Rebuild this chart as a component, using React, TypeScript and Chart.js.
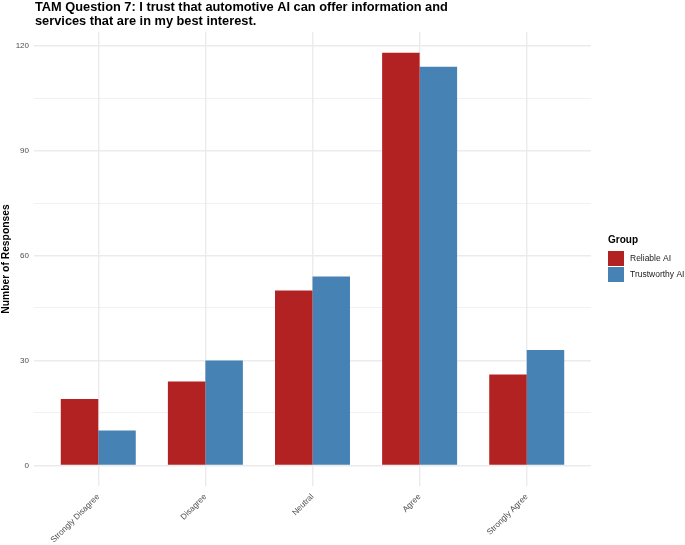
import React, { useEffect, useRef } from "react";
import { Chart, registerables } from "chart.js";

Chart.register(...registerables);

const categories = ["Strongly Disagree", "Disagree", "Neutral", "Agree", "Strongly Agree"];
const reliableAI = [19, 24, 50, 118, 26];
const trustworthyAI = [10, 30, 54, 114, 33];
const seriesNames = ["Reliable AI", "Trustworthy AI"];
const yMajorTicks = [0, 30, 60, 90, 120];
const yMinorTicks = [15, 45, 75, 105];
const titleLines = [
  "TAM Question 7: I trust that automotive AI can offer information and",
  "services that are in my best interest.",
];
const yAxisTitle = "Number of Responses";
const legendTitle = "Group";

const RED = "#B22222";
const BLUE = "#4682B4";
const FONT = '"Liberation Sans", Arial, Helvetica, sans-serif';

const decorPlugin = {
  id: "ggDecor",
  afterDraw(chart: any) {
    const ctx = chart.ctx as CanvasRenderingContext2D;
    ctx.save();
    ctx.fillStyle = "#000000";
    ctx.textAlign = "left";
    ctx.textBaseline = "alphabetic";
    ctx.font = `bold 12.8px ${FONT}`;
    titleLines.forEach((line, i) => ctx.fillText(line, 35, 11 + i * 13.5));

    const lx = 608;
    ctx.font = `bold 10px ${FONT}`;
    ctx.fillText(legendTitle, lx, 243);
    chart.data.datasets.forEach((ds: any, i: number) => {
      const y = 251 + i * 16;
      ctx.fillStyle = ds.backgroundColor;
      ctx.fillRect(lx, y, 16, 15);
      ctx.fillStyle = "#1a1a1a";
      ctx.font = `8.5px ${FONT}`;
      ctx.textBaseline = "middle";
      ctx.fillText(ds.label, 630, y + 8);
      ctx.textBaseline = "alphabetic";
    });
    ctx.restore();
  },
};

export default function App() {
  const canvasRef = useRef<HTMLCanvasElement | null>(null);

  useEffect(() => {
    if (!canvasRef.current) return;
    Chart.defaults.font.family = FONT;
    const allY = [...yMajorTicks, ...yMinorTicks].sort((a, b) => a - b);
    const chart = new Chart(canvasRef.current, {
      type: "bar",
      data: {
        datasets: [
          {
            label: seriesNames[0],
            data: reliableAI.map((y, i) => ({ x: i + 1, y })),
            backgroundColor: RED,
            borderWidth: 0,
            categoryPercentage: 0.7,
            barPercentage: 1,
          },
          {
            label: seriesNames[1],
            data: trustworthyAI.map((y, i) => ({ x: i + 1, y })),
            backgroundColor: BLUE,
            borderWidth: 0,
            categoryPercentage: 0.7,
            barPercentage: 1,
          },
        ],
      },
      options: {
        animation: false,
        responsive: false,
        devicePixelRatio: 1,
        layout: { padding: { top: 32, right: 94, left: 0, bottom: 0 } },
        plugins: {
          legend: { display: false },
          title: { display: false },
          tooltip: { enabled: false },
        },
        scales: {
          x: {
            type: "linear",
            min: 0.4,
            max: 5.6,
            offset: false,
            afterBuildTicks: (s: any) => {
              s.ticks = categories.map((_, i) => ({ value: i + 1 }));
            },
            afterFit: (s: any) => {
              s.height = 59;
            },
            ticks: {
              autoSkip: false,
              maxRotation: 45,
              minRotation: 45,
              padding: 6,
              color: "#4d4d4d",
              font: { size: 8.2, family: FONT },
              callback: (_v: any, i: number) => categories[i] ?? "",
            },
            grid: { color: "#ebebeb", lineWidth: 1.4, drawTicks: false, offset: false },
            border: { display: false },
          },
          y: {
            type: "linear",
            min: -5.9,
            max: 123.9,
            afterBuildTicks: (s: any) => {
              s.ticks = allY.map((v) => ({ value: v }));
            },
            afterFit: (s: any) => {
              s.width = 34;
            },
            ticks: {
              padding: 5,
              color: "#4d4d4d",
              font: { size: 8, family: FONT },
              callback: (v: any) => (yMajorTicks.includes(Number(v)) ? String(v) : ""),
            },
            grid: {
              color: "#ebebeb",
              drawTicks: false,
              lineWidth: (c: any) => (c.tick && yMajorTicks.includes(c.tick.value) ? 1.4 : 0.7),
            },
            border: { display: false },
            title: {
              display: true,
              text: yAxisTitle,
              color: "#000000",
              font: { size: 10.3, weight: "bold", family: FONT },
              padding: 0,
            },
          },
        },
      },
      plugins: [decorPlugin],
    } as any);
    return () => chart.destroy();
  }, []);

  return (
    <div style={{ position: "absolute", left: 0, top: 0, width: 685, height: 545, background: "#ffffff" }}>
      <canvas ref={canvasRef} width={685} height={545} />
    </div>
  );
}
